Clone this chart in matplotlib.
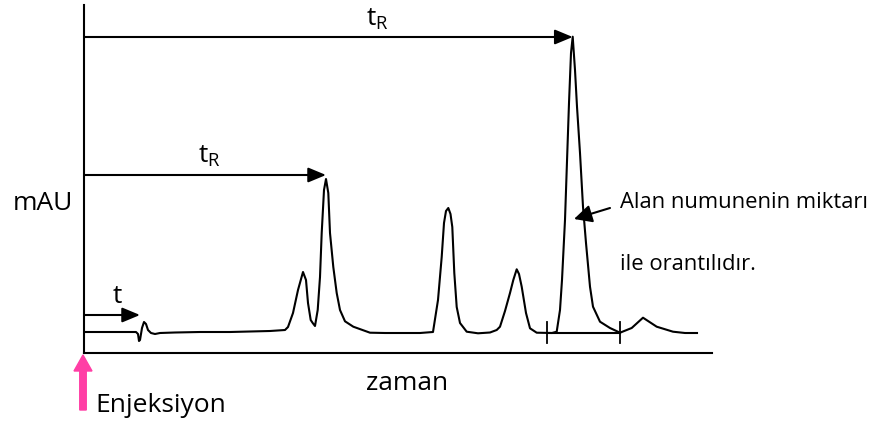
import matplotlib.pyplot as plt

plt.rcParams['font.family'] = ['Open Sans', 'DejaVu Sans']
plt.rcParams['mathtext.fontset'] = 'custom'
plt.rcParams['mathtext.rm'] = 'Open Sans'

# chromatogram trace, split into pieces (time, mAU)
t_start = [0, 16, 36, 52, 54, 55, 56, 58, 60, 62, 64, 67, 71, 76, 91, 116, 146, 166, 186, 201]
s_start = [21, 21, 21, 21, 19, 12, 13, 25, 31, 29, 23, 20, 19, 20, 20.5, 21, 21, 21.5, 22, 23]

t_pk12 = [204, 209, 214, 219, 222, 224, 226.7, 228.7, 231, 233.7, 236, 237.7, 240, 242,
          244.3, 246, 249.3, 252.7, 256, 261, 269.3, 286, 301, 316]
s_pk12 = [26, 40, 63, 81, 73, 50, 33, 30, 27, 43, 76, 120, 163, 174,
          160, 120, 86, 60, 43, 31.7, 26.3, 20.3, 20, 20]

t_pk3 = [336, 349, 354, 357.7, 360, 362, 364.3, 366.5, 368.3, 370.3, 372.7, 376, 382.7, 394]
s_pk3 = [20, 21, 53, 96, 130, 142, 145, 139, 126, 80, 46, 30, 21.3, 19.7]

t_pk4 = [406, 412.7, 416, 421, 426, 429.3, 432.7, 435, 437.7, 442, 446, 452.7]
s_pk4 = [20.5, 23, 26.3, 42, 60, 73, 83.7, 79, 66.3, 40, 24.7, 20.3]

t_pk5 = [468, 472.7, 476, 478, 481, 482.7, 485, 487, 488.7, 491, 493, 496, 499, 502, 506, 509, 516, 526, 536]
s_pk5 = [20, 21.3, 43, 73, 133, 183, 250, 300, 316.3, 283, 246.3, 200, 146.3, 110, 66.3, 46.3, 31.3, 25, 20.3]

t_pk6 = [547.7, 559, 572.7, 589, 601, 613]
s_pk6 = [25, 35.3, 26.3, 21.3, 20, 20]

time = t_start + t_pk12 + t_pk3 + t_pk4 + t_pk5 + t_pk6
signal = s_start + s_pk12 + s_pk3 + s_pk4 + s_pk5 + s_pk6

# retention-time arrows
arrow_y = [316, 178, 38]
arrow_end = [488.7, 242, 56]
arrow_labels = [r'$\mathregular{t_R}$', r'$\mathregular{t_R}$', 't']
label_x = [293, 125, 33]
label_y = [327, 190, 50]

# integration baseline of the big peak
base_x = [463, 536]
base_y = 20
note_lines = ['Alan numunenin miktarı', 'ile orantılıdır.']

fig = plt.figure(figsize=(8.73, 4.24), dpi=100)
ax = fig.add_axes([84 / 873, 71 / 424, 628 / 873, 348 / 424])
ax.set_xlim(0, 628)
ax.set_ylim(0, 348)
for s in ['top', 'right']:
    ax.spines[s].set_visible(False)
for s in ['left', 'bottom']:
    ax.spines[s].set_linewidth(1.5)
ax.set_xticks([]); ax.set_yticks([])

ax.plot(time, signal, color='black', lw=1.5, solid_joinstyle='round')

# baseline with its two tick marks
ax.plot(base_x, [base_y, base_y], color='black', lw=1.5)
for bx in base_x:
    ax.plot([bx, bx], [base_y - 10, base_y + 11], color='black', lw=1.3)

for y, xe, lab, lx, ly in zip(arrow_y, arrow_end, arrow_labels, label_x, label_y):
    ax.annotate('', xy=(xe, y), xytext=(0, y), annotation_clip=False,
                arrowprops=dict(arrowstyle='-|>,head_length=0.6,head_width=0.25',
                                mutation_scale=18, lw=1.5, color='black',
                                shrinkA=0, shrinkB=0))
    ax.text(lx, ly, lab, fontsize=19, ha='center', va='baseline')

ax.annotate('', xy=(490, 134), xytext=(526, 145), annotation_clip=False,
            arrowprops=dict(arrowstyle='-|>,head_length=0.6,head_width=0.3',
                            mutation_scale=18, lw=1.5, color='black',
                            shrinkA=0, shrinkB=0))
ax.text(536, 151, note_lines[0], fontsize=15.8, va='center', clip_on=False)
ax.text(536, 88, note_lines[1], fontsize=15.8, va='center', clip_on=False)

ax.text(-41, 150, 'mAU', fontsize=19, ha='center', va='center', clip_on=False)
ax.text(323.5, -31, 'zaman', fontsize=19, ha='center', va='center', clip_on=False)
ax.text(11, -59, 'Enjeksiyon', fontsize=19, va='baseline', clip_on=False)

# pink injection arrow
ax.arrow(-1, -57, 0, 55, width=6.5, head_width=18, head_length=16,
         length_includes_head=True, color='#ff3ea5', clip_on=False)

fig.savefig('out.png', dpi=100)
